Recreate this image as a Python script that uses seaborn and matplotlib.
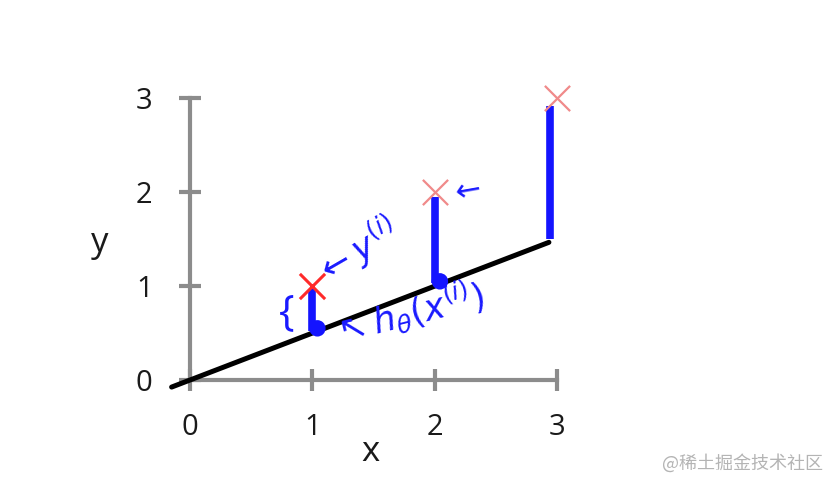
import numpy as np
import pandas as pd
import seaborn as sns
import matplotlib.pyplot as plt

# training points
x_train = [1, 2, 3]
y_train = [1, 2, 3]
x_colors = ['#ff2a2a', '#f08a8a', '#f08a8a']

# hypothesis line h(x) = 0.5 x, drawn between the two ends
line_x = [-0.15, 2.93]
line_y = [-0.075, 1.465]

# hand-drawn blue error strokes
seg_x = [1.0, 2.0, 2.94]
seg_bottom = [0.52, 1.03, 1.50]
seg_top = [0.97, 1.95, 2.92]

# blue dots on the line
dot_x = [1.04, 2.04]
dot_y = [0.55, 1.05]

ticks = [0, 1, 2, 3]

sns.set_style('white')
plt.rcParams['font.family'] = ['Open Sans', 'DejaVu Sans']

fig = plt.figure(figsize=(8.38, 4.9), dpi=100)
ax = fig.add_axes([0, 0, 1, 1])
ax.set_xlim(-1.551, 5.290)
ax.set_ylim(-1.170, 4.043)

gray = '#8c8c8c'
for side in ['top', 'right']:
    ax.spines[side].set_visible(False)
for side in ['left', 'bottom']:
    ax.spines[side].set_position(('data', 0))
    ax.spines[side].set_color(gray)
    ax.spines[side].set_linewidth(3)
ax.spines['left'].set_bounds(0, 3)
ax.spines['bottom'].set_bounds(0, 3)

ax.set_xticks(ticks)
ax.set_yticks(ticks)
ax.tick_params(axis='both', direction='inout', length=16, width=3, color=gray,
               labelsize=21, labelcolor='#1a1a1a', bottom=True, left=True)
ax.tick_params(axis='x', pad=16)
ax.tick_params(axis='y', pad=19)

ax.text(-0.735, 1.457, 'y', fontsize=25, color='#1a1a1a', ha='center', va='center')
ax.text(1.47, -0.766, 'x', fontsize=25, color='#1a1a1a', ha='center', va='center')

# line
df_line = pd.DataFrame({'x': line_x, 'y': line_y})
sns.lineplot(data=df_line, x='x', y='y', color='black', linewidth=3.6, ax=ax, zorder=3)

# blue strokes
ax.vlines(seg_x, seg_bottom, seg_top, colors='#1414ff', linewidth=5.5, zorder=4)
df_dot = pd.DataFrame({'x': dot_x, 'y': dot_y})
sns.scatterplot(data=df_dot, x='x', y='y', color='#1414ff', s=140, edgecolor='none',
                ax=ax, zorder=5)

# red crosses
df_pts = pd.DataFrame({'x': x_train, 'y': y_train, 'c': x_colors})
for i, row in df_pts.iterrows():
    sns.scatterplot(x=[row['x']], y=[row['y']], marker='x', s=330, color=row['c'],
                    linewidth=2.2 if i == 0 else 1.6, ax=ax, zorder=6)

# handwritten annotations
blue = '#1a1aff'
ax.text(1.13, 0.93, r'$\leftarrow y^{(i)}$', color=blue, fontsize=25, rotation=30,
        ha='left', va='bottom', rotation_mode='anchor')
ax.text(1.2, 0.3, r'$\nwarrow h_\theta(x^{(i)})$', color=blue, fontsize=25, rotation=14,
        ha='left', va='bottom', rotation_mode='anchor')
ax.text(0.79, 0.71, '{', color=blue, fontsize=30, ha='center', va='center')
ax.text(2.25, 2.02, r'$\leftarrow$', color=blue, fontsize=22, ha='center', va='center', rotation=10)

ax.set_xlabel('')
ax.set_ylabel('')

fig.text(0.886, 0.055, '@稀土掘金技术社区', color='#b4b4b4', fontsize=13,
         ha='center', va='center', family=['Noto Sans CJK SC', 'DejaVu Sans'])

fig.savefig('out.png', dpi=100)
